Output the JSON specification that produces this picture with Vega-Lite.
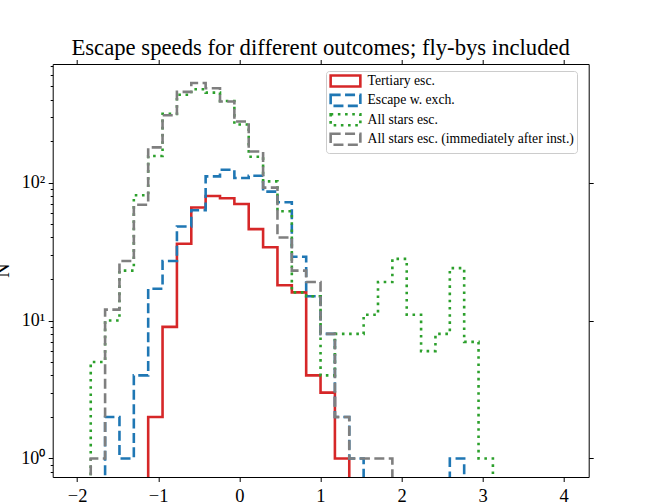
{
  "$schema": "https://vega.github.io/schema/vega-lite/v6.json",
  "width": 536,
  "height": 413,
  "autosize": {"type": "none"},
  "padding": {"left": 52.7, "top": 64, "right": 69.3, "bottom": 26},
  "title": {
    "text": "Escape speeds for different outcomes; fly-bys included",
    "font": "Liberation Serif",
    "fontSize": 22.7,
    "fontWeight": "normal",
    "color": "black",
    "frame": "group",
    "anchor": "middle",
    "baseline": "alphabetic",
    "offset": -21
  },
  "config": {
    "view": {"stroke": "black", "strokeWidth": 1},
    "font": "Liberation Serif",
    "axis": {
      "grid": false,
      "domain": false,
      "tickColor": "black",
      "tickWidth": 1,
      "labelColor": "black",
      "labelFont": "Liberation Serif",
      "labelFontSize": 18,
      "labelOverlap": false,
      "labelFlush": false,
      "zindex": 1
    }
  },
  "datasets": {
    "h": [
      {"s": "Tertiary esc.", "i": 0, "x": -1.1236, "n": 0},
      {"s": "Tertiary esc.", "i": 1, "x": -1.1236, "n": 2},
      {"s": "Tertiary esc.", "i": 2, "x": -0.9465, "n": 9},
      {"s": "Tertiary esc.", "i": 3, "x": -0.7694, "n": 36},
      {"s": "Tertiary esc.", "i": 4, "x": -0.5923, "n": 66},
      {"s": "Tertiary esc.", "i": 5, "x": -0.4152, "n": 80},
      {"s": "Tertiary esc.", "i": 6, "x": -0.2381, "n": 77},
      {"s": "Tertiary esc.", "i": 7, "x": -0.061, "n": 70},
      {"s": "Tertiary esc.", "i": 8, "x": 0.1161, "n": 46},
      {"s": "Tertiary esc.", "i": 9, "x": 0.2932, "n": 34},
      {"s": "Tertiary esc.", "i": 10, "x": 0.4703, "n": 18},
      {"s": "Tertiary esc.", "i": 11, "x": 0.6474, "n": 16},
      {"s": "Tertiary esc.", "i": 12, "x": 0.8245, "n": 4},
      {"s": "Tertiary esc.", "i": 13, "x": 1.0016, "n": 3},
      {"s": "Tertiary esc.", "i": 14, "x": 1.1787, "n": 1},
      {"s": "Tertiary esc.", "i": 15, "x": 1.3558, "n": 0},

      {"s": "Escape w. exch.", "i": 0, "x": -1.6549, "n": 0},
      {"s": "Escape w. exch.", "i": 1, "x": -1.6549, "n": 2},
      {"s": "Escape w. exch.", "i": 2, "x": -1.4778, "n": 1},
      {"s": "Escape w. exch.", "i": 3, "x": -1.3007, "n": 4},
      {"s": "Escape w. exch.", "i": 4, "x": -1.1236, "n": 17},
      {"s": "Escape w. exch.", "i": 5, "x": -0.9465, "n": 27},
      {"s": "Escape w. exch.", "i": 6, "x": -0.7694, "n": 48},
      {"s": "Escape w. exch.", "i": 7, "x": -0.5923, "n": 63},
      {"s": "Escape w. exch.", "i": 8, "x": -0.4152, "n": 111},
      {"s": "Escape w. exch.", "i": 9, "x": -0.2381, "n": 124},
      {"s": "Escape w. exch.", "i": 10, "x": -0.061, "n": 108},
      {"s": "Escape w. exch.", "i": 11, "x": 0.1161, "n": 112},
      {"s": "Escape w. exch.", "i": 12, "x": 0.2932, "n": 86},
      {"s": "Escape w. exch.", "i": 13, "x": 0.4703, "n": 72},
      {"s": "Escape w. exch.", "i": 14, "x": 0.6474, "n": 29},
      {"s": "Escape w. exch.", "i": 15, "x": 0.8245, "n": 15},
      {"s": "Escape w. exch.", "i": 16, "x": 1.0016, "n": 8},
      {"s": "Escape w. exch.", "i": 17, "x": 1.1787, "n": 2},
      {"s": "Escape w. exch.", "i": 18, "x": 1.3558, "n": 1},
      {"s": "Escape w. exch.", "i": 19, "x": 1.5329, "n": 0},
      {"s": "Escape w. exch.", "i": 20, "x": 1.71, "n": 0},
      {"s": "Escape w. exch.", "i": 21, "x": 1.8871, "n": 0},
      {"s": "Escape w. exch.", "i": 22, "x": 2.0642, "n": 0},
      {"s": "Escape w. exch.", "i": 23, "x": 2.2413, "n": 0},
      {"s": "Escape w. exch.", "i": 24, "x": 2.4184, "n": 0},
      {"s": "Escape w. exch.", "i": 25, "x": 2.5955, "n": 1},
      {"s": "Escape w. exch.", "i": 26, "x": 2.7726, "n": 0},

      {"s": "All stars esc.", "i": 0, "x": -1.832, "n": 0},
      {"s": "All stars esc.", "i": 1, "x": -1.832, "n": 5},
      {"s": "All stars esc.", "i": 2, "x": -1.6549, "n": 10},
      {"s": "All stars esc.", "i": 3, "x": -1.4778, "n": 23},
      {"s": "All stars esc.", "i": 4, "x": -1.3007, "n": 81},
      {"s": "All stars esc.", "i": 5, "x": -1.1236, "n": 156},
      {"s": "All stars esc.", "i": 6, "x": -0.9465, "n": 315},
      {"s": "All stars esc.", "i": 7, "x": -0.7694, "n": 433},
      {"s": "All stars esc.", "i": 8, "x": -0.5923, "n": 475},
      {"s": "All stars esc.", "i": 9, "x": -0.4152, "n": 449},
      {"s": "All stars esc.", "i": 10, "x": -0.2381, "n": 390},
      {"s": "All stars esc.", "i": 11, "x": -0.061, "n": 264},
      {"s": "All stars esc.", "i": 12, "x": 0.1161, "n": 154},
      {"s": "All stars esc.", "i": 13, "x": 0.2932, "n": 102},
      {"s": "All stars esc.", "i": 14, "x": 0.4703, "n": 62},
      {"s": "All stars esc.", "i": 15, "x": 0.6474, "n": 16},
      {"s": "All stars esc.", "i": 16, "x": 0.8245, "n": 15},
      {"s": "All stars esc.", "i": 17, "x": 1.0016, "n": 4},
      {"s": "All stars esc.", "i": 18, "x": 1.1787, "n": 8},
      {"s": "All stars esc.", "i": 19, "x": 1.3558, "n": 8},
      {"s": "All stars esc.", "i": 20, "x": 1.5329, "n": 11},
      {"s": "All stars esc.", "i": 21, "x": 1.71, "n": 19},
      {"s": "All stars esc.", "i": 22, "x": 1.8871, "n": 28},
      {"s": "All stars esc.", "i": 23, "x": 2.0642, "n": 11},
      {"s": "All stars esc.", "i": 24, "x": 2.2413, "n": 6},
      {"s": "All stars esc.", "i": 25, "x": 2.4184, "n": 8},
      {"s": "All stars esc.", "i": 26, "x": 2.5955, "n": 24},
      {"s": "All stars esc.", "i": 27, "x": 2.7726, "n": 7},
      {"s": "All stars esc.", "i": 28, "x": 2.9497, "n": 1},
      {"s": "All stars esc.", "i": 29, "x": 3.1268, "n": 0},

      {"s": "All stars esc. (immediately after inst.)", "i": 0, "x": -1.832, "n": 0},
      {"s": "All stars esc. (immediately after inst.)", "i": 1, "x": -1.832, "n": 1},
      {"s": "All stars esc. (immediately after inst.)", "i": 2, "x": -1.6549, "n": 12},
      {"s": "All stars esc. (immediately after inst.)", "i": 3, "x": -1.4778, "n": 27},
      {"s": "All stars esc. (immediately after inst.)", "i": 4, "x": -1.3007, "n": 69},
      {"s": "All stars esc. (immediately after inst.)", "i": 5, "x": -1.1236, "n": 180},
      {"s": "All stars esc. (immediately after inst.)", "i": 6, "x": -0.9465, "n": 308},
      {"s": "All stars esc. (immediately after inst.)", "i": 7, "x": -0.7694, "n": 455},
      {"s": "All stars esc. (immediately after inst.)", "i": 8, "x": -0.5923, "n": 527},
      {"s": "All stars esc. (immediately after inst.)", "i": 9, "x": -0.4152, "n": 483},
      {"s": "All stars esc. (immediately after inst.)", "i": 10, "x": -0.2381, "n": 387},
      {"s": "All stars esc. (immediately after inst.)", "i": 11, "x": -0.061, "n": 277},
      {"s": "All stars esc. (immediately after inst.)", "i": 12, "x": 0.1161, "n": 168},
      {"s": "All stars esc. (immediately after inst.)", "i": 13, "x": 0.2932, "n": 92},
      {"s": "All stars esc. (immediately after inst.)", "i": 14, "x": 0.4703, "n": 40},
      {"s": "All stars esc. (immediately after inst.)", "i": 15, "x": 0.6474, "n": 23},
      {"s": "All stars esc. (immediately after inst.)", "i": 16, "x": 0.8245, "n": 19},
      {"s": "All stars esc. (immediately after inst.)", "i": 17, "x": 1.0016, "n": 8},
      {"s": "All stars esc. (immediately after inst.)", "i": 18, "x": 1.1787, "n": 2},
      {"s": "All stars esc. (immediately after inst.)", "i": 19, "x": 1.3558, "n": 1},
      {"s": "All stars esc. (immediately after inst.)", "i": 20, "x": 1.5329, "n": 1},
      {"s": "All stars esc. (immediately after inst.)", "i": 21, "x": 1.71, "n": 1},
      {"s": "All stars esc. (immediately after inst.)", "i": 22, "x": 1.8871, "n": 0}
    ]
  },
  "layer": [
    {
      "data": {"name": "h"},
      "mark": {"type": "line", "interpolate": "step-after", "clip": true, "strokeWidth": 2.6, "invalid": null},
      "encoding": {
        "x": {
          "field": "x", "type": "quantitative",
          "scale": {"domain": [-2.301, 4.308], "nice": false, "zero": false},
          "axis": {"orient": "bottom", "title": null, "values": [-2, -1, 0, 1, 2, 3, 4], "format": "d", "tickSize": 4.5, "labelPadding": 5, "labelFontSize": 18.5}
        },
        "y": {
          "field": "n", "type": "quantitative",
          "scale": {"type": "log", "domain": [0.4675, 724], "range": [440, 0], "clamp": true, "nice": false, "zero": false},
          "axis": {
            "orient": "left",
            "title": "N",
            "titleFont": "Liberation Serif",
            "titleFontSize": 20,
            "titleFontWeight": "normal",
            "titleColor": "black",
            "titleAngle": 270,
            "titleAlign": "center",
            "titleBaseline": "alphabetic",
            "titleX": -44.7,
            "titleY": 206,
            "values": [0.8, 0.9, 1, 2, 3, 4, 5, 6, 7, 8, 9, 10, 20, 30, 40, 50, 60, 70, 80, 90, 100, 200, 300, 400, 500, 600, 700],
            "labelExpr": "datum.value == 1 ? '10⁰' : datum.value == 10 ? '10¹' : datum.value == 100 ? '10²' : ''",
            "tickSize": {"condition": {"test": "datum.value == 1 || datum.value == 10 || datum.value == 100", "value": 4.5}, "value": 2.5},
            "labelPadding": 3.5
          }
        },
        "color": {
          "field": "s", "type": "nominal",
          "scale": {
            "domain": ["Tertiary esc.", "Escape w. exch.", "All stars esc.", "All stars esc. (immediately after inst.)"],
            "range": ["#d62728", "#1f77b4", "#2ca02c", "#7f7f7f"]
          },
          "legend": {
            "orient": "none",
            "legendX": 273.3,
            "legendY": 7,
            "title": null,
            "symbolType": "M-2.7,-1H2.7V1H-2.7Z",
            "symbolSize": 121,
            "symbolStrokeWidth": 2.6,
            "symbolOffset": 9.5,
            "labelOffset": 15,
            "labelFont": "Liberation Serif",
            "labelFontSize": 13.7,
            "labelColor": "black",
            "labelLimit": 400,
            "padding": 3,
            "rowPadding": -2.6,
            "strokeColor": "#cccccc",
            "fillColor": "white",
            "cornerRadius": 3
          }
        },
        "strokeDash": {
          "field": "s", "type": "nominal",
          "scale": {
            "domain": ["Tertiary esc.", "Escape w. exch.", "All stars esc.", "All stars esc. (immediately after inst.)"],
            "range": [[1, 0], [10, 4.4], [2.6, 4.6], [10, 4.4]]
          }
        },
        "order": {"field": "i", "type": "quantitative"}
      }
    },
    {
      "data": {"name": "h"},
      "mark": {"type": "line", "opacity": 0, "clip": true, "invalid": null},
      "encoding": {
        "x": {
          "field": "x", "type": "quantitative",
          "scale": {"domain": [-2.301, 4.308], "nice": false, "zero": false},
          "axis": {"orient": "top", "title": null, "labels": false, "values": [-2, -1, 0, 1, 2, 3, 4], "tickSize": 4.5}
        },
        "y": {
          "field": "n", "type": "quantitative",
          "scale": {"type": "log", "domain": [0.4675, 724], "range": [440, 0], "clamp": true, "nice": false, "zero": false},
          "axis": {"orient": "right", "title": null, "labels": false, "values": [1, 10, 100], "tickSize": 4.5}
        },
        "detail": {"field": "s", "type": "nominal"},
        "order": {"field": "i", "type": "quantitative"}
      }
    }
  ],
  "resolve": {"axis": {"x": "independent", "y": "independent"}}
}
